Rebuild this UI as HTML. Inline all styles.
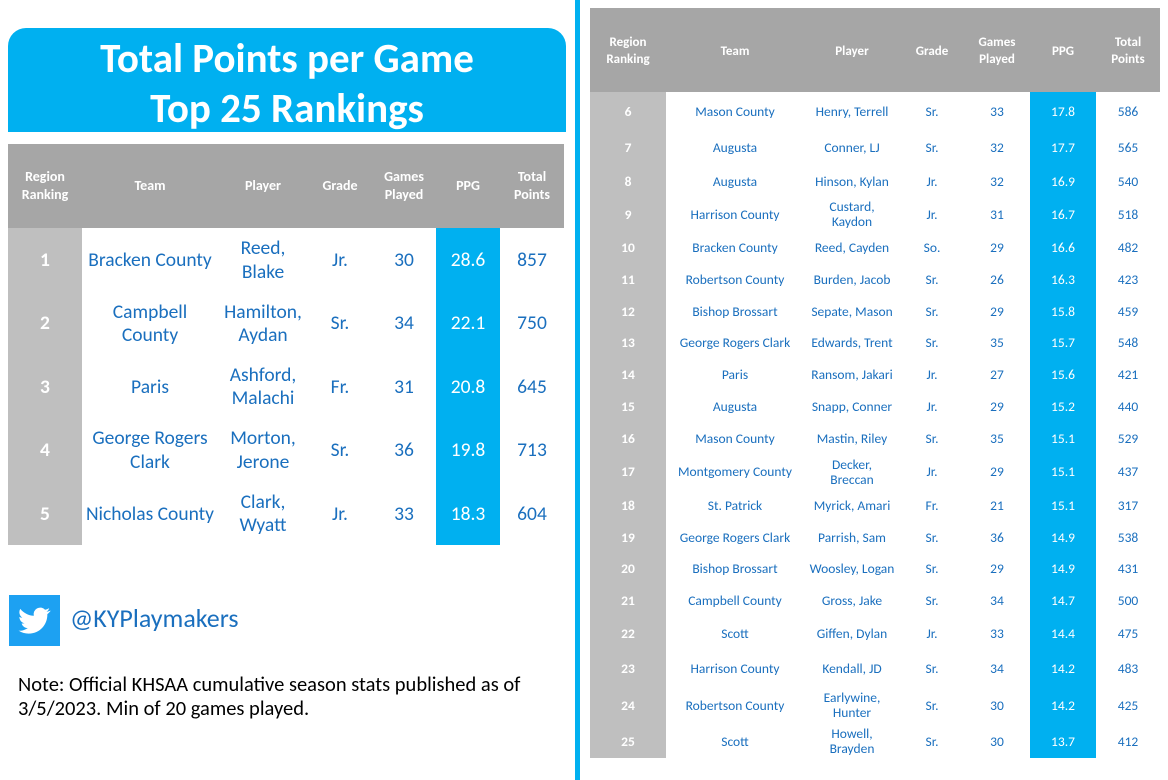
<!DOCTYPE html>
<html><head><meta charset="utf-8">
<style>
*{margin:0;padding:0;box-sizing:border-box}
body{width:1168px;height:780px;background:#fff;position:relative;overflow:hidden;font-family:"Calibri","Carlito","Liberation Sans",sans-serif}
.abs{position:absolute}
#title{left:8px;top:28px;width:558px;height:104px;background:#00b0f0;border-radius:18px 18px 0 0;color:#fff;font-weight:bold;font-size:41px;text-align:center;line-height:50px;padding-top:6px}
table{border-collapse:collapse;table-layout:fixed;position:absolute}
th{background:#a6a6a6;color:#fff;font-weight:bold;text-align:center;line-height:1.3}
td{text-align:center;color:#1a6fbe;line-height:1.2}
td.rk{background:#bfbfbf;color:#fff;font-weight:bold}
td.ppg{background:#00b0f0;color:#fff}
#lt{left:8px;top:144px;width:556px}
#lt th{height:84px;font-size:14px}
#lt td{font-size:19.5px;padding-top:2px}
#rt{left:590px;top:8px;width:570px}
#rt th{height:84px;font-size:13px;padding-top:4px}
#rt td{font-size:13.5px;padding-top:3px;line-height:1.1}
#div{left:575px;top:0;width:5px;height:780px;background:#00b0f0}
#tw{left:9px;top:595px;width:51px;height:51px;background:#1da1f2}
#handle{left:70px;top:602px;font-size:26px;color:#1a6fbe}
#note{left:18px;top:672px;font-size:20.5px;color:#000;line-height:24px;width:540px}
</style></head><body>
<div id="title" class="abs">Total Points per Game<br>Top 25 Rankings</div>
<div id="div" class="abs"></div>
<table id="lt">
<colgroup><col style="width:74px"><col style="width:136px"><col style="width:90px"><col style="width:64px"><col style="width:64px"><col style="width:64px"><col style="width:64px"></colgroup>
<thead><tr><th>Region<br>Ranking</th><th>Team</th><th>Player</th><th>Grade</th><th>Games<br>Played</th><th>PPG</th><th>Total<br>Points</th></tr></thead>
<tbody id="ltb"></tbody></table>
<table id="rt">
<colgroup><col style="width:76px"><col style="width:138px"><col style="width:96px"><col style="width:64px"><col style="width:66px"><col style="width:66px"><col style="width:64px"></colgroup>
<thead><tr><th>Region<br>Ranking</th><th>Team</th><th>Player</th><th>Grade</th><th>Games<br>Played</th><th>PPG</th><th>Total<br>Points</th></tr></thead>
<tbody id="rtb"></tbody></table>
<div id="tw" class="abs">
<svg width="51" height="51" viewBox="0 0 24 24"><path fill="#fff" transform="translate(4.5 4.5) scale(0.63)" d="M23.6 4.6c-.9.4-1.8.6-2.8.8 1-.6 1.8-1.5 2.1-2.7-.9.6-2 1-3.1 1.2a4.9 4.9 0 0 0-8.4 4.5C7.4 8.2 3.7 6.2 1.3 3.2a4.9 4.9 0 0 0 1.5 6.6c-.8 0-1.6-.2-2.2-.6 0 2.4 1.7 4.4 3.9 4.8-.7.2-1.5.2-2.2.1.6 2 2.4 3.4 4.6 3.4A9.9 9.9 0 0 1 0 19.5 14 14 0 0 0 7.5 21.7c9.1 0 14-7.5 14-14v-.6c1-.7 1.8-1.6 2.5-2.5z"/></svg></div>
<div id="handle" class="abs">@KYPlaymakers</div>
<div id="note" class="abs">Note: Official KHSAA cumulative season stats published as of 3/5/2023. Min of 20 games played.</div>
<script>
const ranks=[1,2,3,4,5,6,7,8,9,10,11,12,13,14,15,16,17,18,19,20,21,22,23,24,25];
const teams=["Bracken County","Campbell<br>County","Paris","George Rogers<br>Clark","Nicholas County","Mason County","Augusta","Augusta","Harrison County","Bracken County","Robertson County","Bishop Brossart","George Rogers Clark","Paris","Augusta","Mason County","Montgomery County","St. Patrick","George Rogers Clark","Bishop Brossart","Campbell County","Scott","Harrison County","Robertson County","Scott"];
const players=["Reed,<br>Blake","Hamilton,<br>Aydan","Ashford,<br>Malachi","Morton,<br>Jerone","Clark,<br>Wyatt","Henry, Terrell","Conner, LJ","Hinson, Kylan","Custard,<br>Kaydon","Reed, Cayden","Burden, Jacob","Sepate, Mason","Edwards, Trent","Ransom, Jakari","Snapp, Conner","Mastin, Riley","Decker,<br>Breccan","Myrick, Amari","Parrish, Sam","Woosley, Logan","Gross, Jake","Giffen, Dylan","Kendall, JD","Earlywine,<br>Hunter","Howell,<br>Brayden"];
const grades=["Jr.","Sr.","Fr.","Sr.","Jr.","Sr.","Sr.","Jr.","Jr.","So.","Sr.","Sr.","Sr.","Jr.","Jr.","Sr.","Jr.","Fr.","Sr.","Sr.","Sr.","Jr.","Sr.","Sr.","Sr."];
const games=[30,34,31,36,33,33,32,32,31,29,26,29,35,27,29,35,29,21,36,29,34,33,34,30,30];
const ppg=["28.6","22.1","20.8","19.8","18.3","17.8","17.7","16.9","16.7","16.6","16.3","15.8","15.7","15.6","15.2","15.1","15.1","15.1","14.9","14.9","14.7","14.4","14.2","14.2","13.7"];
const totals=[857,750,645,713,604,586,565,540,518,482,423,459,548,421,440,529,437,317,538,431,500,475,483,425,412];
const rightHeights=[38.5,33.5,33,33.5,32.5,32,31.5,31.5,32,32,32.5,33.5,33,31.5,31.5,32,33.5,36.5,37,35];
const names=["rank","team","player","grade","games","ppg","total"];
for(let i=0;i<ranks.length;i++){
  const tr=document.createElement('tr');
  
  
  tr.style.height=(i<5?63.4:rightHeights[i-5])+'px';
  const vals=[ranks[i],teams[i],players[i],grades[i],games[i],ppg[i],totals[i]];
  vals.forEach((v,j)=>{
    const td=document.createElement('td');
    
    
    if(j===0)td.className='rk';
    if(j===5)td.className='ppg';
    td.innerHTML=v;
    tr.appendChild(td);
  });
  document.getElementById(i<5?'ltb':'rtb').appendChild(tr);
}
</script>
</body></html>
